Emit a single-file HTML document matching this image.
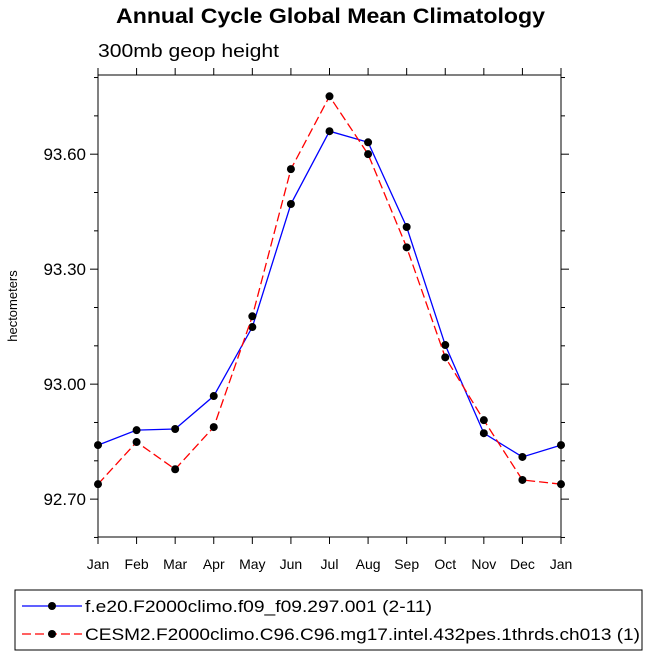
<!DOCTYPE html>
<html><head><meta charset="utf-8"><style>
body{margin:0;background:#fff;}
svg{display:block;font-family:"Liberation Sans",Arial,sans-serif;}
</style></head><body>
<svg id="chart" width="648" height="658" viewBox="0 0 648 658">
<text x="116" y="23" font-size="21" font-weight="bold" textLength="429" lengthAdjust="spacingAndGlyphs">Annual Cycle Global Mean Climatology</text>
<text x="98" y="57" font-size="18" textLength="181" lengthAdjust="spacingAndGlyphs">300mb geop height</text>
<text transform="translate(17,306) rotate(-90)" text-anchor="middle" font-size="13">hectometers</text>
<rect x="98" y="75" width="463" height="462" fill="none" stroke="#000" stroke-width="1"/>
<g id="axes"></g>
<g id="series"></g>
<rect x="15" y="590" width="627" height="60" fill="none" stroke="#000" stroke-width="1"/>
<g>
<line x1="22" y1="606" x2="82" y2="606" stroke="#0000ff" stroke-width="1.3"/>
<circle cx="52" cy="606" r="4" fill="#000"/>
<text x="85" y="612" font-size="17" textLength="347" lengthAdjust="spacingAndGlyphs">f.e20.F2000climo.f09_f09.297.001 (2-11)</text>
</g>
<g>
<line x1="22" y1="634" x2="82" y2="634" stroke="#ff0000" stroke-width="1.3" stroke-dasharray="9,4"/>
<circle cx="52" cy="634" r="4" fill="#000"/>
<text x="85" y="640" font-size="17" textLength="555" lengthAdjust="spacingAndGlyphs">CESM2.F2000climo.C96.C96.mg17.intel.432pes.1thrds.ch013 (1)</text>
</g>
</svg>
<script>
const months = ["Jan","Feb","Mar","Apr","May","Jun","Jul","Aug","Sep","Oct","Nov","Dec","Jan"];
const blueValues = [92.841,92.880,92.883,92.969,93.149,93.470,93.660,93.631,93.410,93.102,92.872,92.810,92.841];
const redValues = [92.739,92.849,92.778,92.888,93.177,93.561,93.751,93.600,93.357,93.070,92.906,92.750,92.739];
const yTicks = [92.70,93.00,93.30,93.60];
const yMinorTicks = [92.6,92.8,92.9,93.1,93.2,93.4,93.5,93.7,93.8];
const NS="http://www.w3.org/2000/svg";
const X0=98,X1=561,Y0=537,Y1=75;
const yMin=92.6012,yMax=93.8066;
function xs(i){return X0+(X1-X0)*i/(months.length-1);}
function ys(v){return Y0-(v-yMin)/(yMax-yMin)*(Y0-Y1);}
function mk(tag,attrs,parent){const e=document.createElementNS(NS,tag);for(const k in attrs)e.setAttribute(k,attrs[k]);parent.appendChild(e);return e;}
const axes=document.getElementById('axes'),series=document.getElementById('series');
months.forEach((m,i)=>{
  const x=xs(i);
  const t=mk('line',{x1:x,y1:Y0,x2:x,y2:Y0+7,stroke:'#000'},axes);
  
  
  const t2=mk('line',{x1:x,y1:Y1,x2:x,y2:Y1-7,stroke:'#000'},axes);
  
  
  const l=mk('text',{x:x,y:Y0+32,'text-anchor':'middle','font-size':'14'},axes);
  l.textContent=m;
  
  
});
yTicks.forEach(v=>{
  const y=ys(v);
  const a=mk('line',{x1:X0-8,y1:y,x2:X0,y2:y,stroke:'#000'},axes);
  
  
  const b=mk('line',{x1:X1,y1:y,x2:X1+8,y2:y,stroke:'#000'},axes);
  
  
  const l=mk('text',{x:X0-12,y:y+6,'text-anchor':'end','font-size':'17'},axes);
  l.textContent=v.toFixed(2);
  
  
});
yMinorTicks.forEach(v=>{
  const y=ys(v);
  if(y<Y1-1||y>Y0+1)return;
  const a=mk('line',{x1:X0-4,y1:y,x2:X0,y2:y,stroke:'#000'},axes);
  
  
  const b=mk('line',{x1:X1,y1:y,x2:X1+4,y2:y,stroke:'#000'},axes);
  
  
});
function drawSeries(vals,color,dash,name){
  const pts=vals.map((v,i)=>xs(i)+','+ys(v)).join(' ');
  const p=mk('polyline',{points:pts,fill:'none',stroke:color,'stroke-width':1.3},series);
  if(dash)p.setAttribute('stroke-dasharray',dash);
  
  
  vals.forEach((v,i)=>{
    const c=mk('circle',{cx:xs(i),cy:ys(v),r:4,fill:'#000'},series);
    
    
  });
}
drawSeries(blueValues,'#0000ff',null,'blue-series');
drawSeries(redValues,'#ff0000','9,4','red-series');
</script>
</body></html>
